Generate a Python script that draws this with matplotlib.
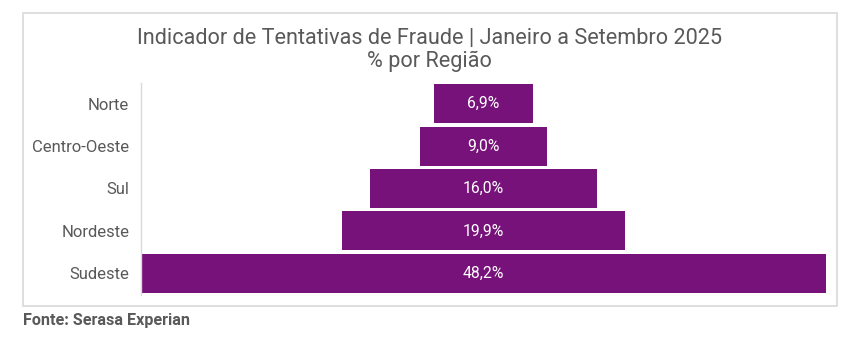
import matplotlib
matplotlib.use("Agg")
import matplotlib.pyplot as plt
from matplotlib.patches import Rectangle

# --- data
regioes = ["Sudeste", "Nordeste", "Sul", "Centro-Oeste", "Norte"]
valores = [48.2, 19.9, 16.0, 9.0, 6.9]
rotulos = ["48,2%", "19,9%", "16,0%", "9,0%", "6,9%"]

titulo = "Indicador de Tentativas de Fraude | Janeiro a Setembro 2025\n% por Região"
fonte = "Fonte: Serasa Experian"

roxo = "#77127A"
cinza = "#595959"

plt.rcParams["font.family"] = ["Roboto", "DejaVu Sans"]

W, H = 850, 340
fig = plt.figure(figsize=(W / 100, H / 100), dpi=100)

# frame around the chart area
fig.patches.append(Rectangle((23 / W, 1 - 306 / H), (837 - 23) / W, (306 - 13) / H,
                             transform=fig.transFigure, fill=False,
                             edgecolor="#d9d9d9", linewidth=1.2))

ax = fig.add_axes([141 / W, 1 - 294.5 / H, (826 - 141) / W, 212 / H])

ypos = list(range(len(regioes)))
lefts = [-v / 2 for v in valores]
ax.barh(ypos, valores, left=lefts, height=0.92, color=roxo)

for y, txt in zip(ypos, rotulos):
    ax.text(0, y, txt, ha="center", va="center", color="white", fontsize=11.3)

half = max(valores) / 2
ax.set_xlim(-half, half)
ax.set_ylim(-0.5, len(regioes) - 0.5)
ax.set_yticks(ypos)
ax.set_yticklabels(regioes, fontsize=12, color=cinza)
ax.tick_params(axis="y", length=0, pad=8.5)
ax.set_xticks([])
for s in ["top", "right", "bottom"]:
    ax.spines[s].set_visible(False)
ax.spines["left"].set_color("#d9d9d9")
ax.spines["left"].set_linewidth(1)

fig.text(429.5 / W, 1 - 50 / H, titulo, ha="center", va="center",
         fontsize=15.6, color=cinza, linespacing=1.1)
fig.text(23 / W, 1 - 320 / H, fonte, ha="left", va="center",
         fontsize=11.6, color=cinza, fontweight="bold")

fig.savefig("out.png", dpi=100, facecolor="white")
